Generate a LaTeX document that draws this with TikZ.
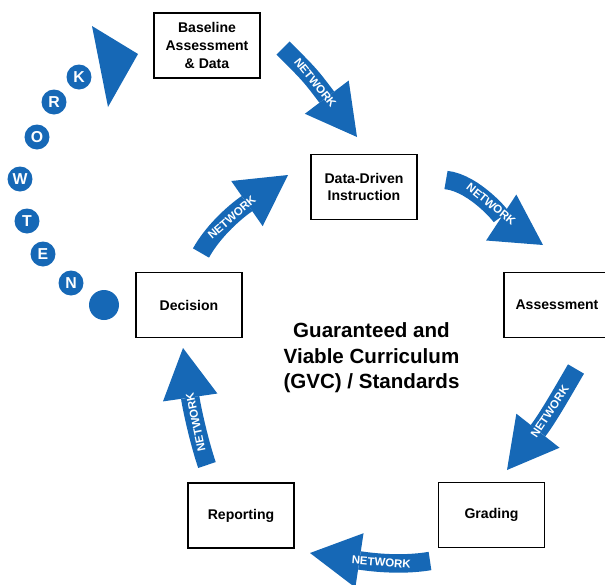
\documentclass[tikz,border=0pt]{standalone}
\usepackage{fontspec}
\setmainfont{Liberation Sans}
\usetikzlibrary{arrows.meta}
\definecolor{netblue}{RGB}{22,104,182}

\begin{document}
\begin{tikzpicture}[x=0.2mm, y=-0.2mm,
		box/.style={draw, line width=1pt, minimum width=21.2mm, minimum height=13mm, align=center, font=\bfseries\fontsize{8}{10}\selectfont},
		ball/.style={circle, fill=netblue, minimum size=5mm, inner sep=0pt, text=white, font=\bfseries\fontsize{9}{9}\selectfont},
		net/.style={draw=netblue, line width=3.7mm, -{Triangle[width=11mm, length=10mm, line width=0pt]}},
		netlabel/.style={sloped, text=white, inner sep=0pt, font=\bfseries\fontsize{6.5}{6.5}\selectfont}]
		\useasboundingbox (0,0) rectangle (605,585);

		\node[box] (base) at (207,45.5) {Baseline\\Assessment\\\& Data};
		\node[box] (ddi) at (364,187) {Data-Driven\\Instruction};
		\node[box] (asmt) at (557,305) {Assessment};
		\node[box] (grad) at (491.5,515) {Grading};
		\node[box] (rep) at (241,515.5) {Reporting};
		\node[box] (dec) at (189,305) {Decision};

		\node[align=center, font=\bfseries\fontsize{11.7}{14.5}\selectfont] (gvc) at (371.5,358) {Guaranteed and\\Viable Curriculum\\(GVC) / Standards};

		\node[ball, minimum size=6mm] (dot) at (104,305) {};
		\node[ball] (n) at (71,283) {N};
		\node[ball] (e) at (43,254) {E};
		\node[ball] (t) at (27,221) {T};
		\node[ball] (w) at (20,179) {W};
		\node[ball] (o) at (37,137) {O};
		\node[ball] (r) at (54,102) {R};
		\node[ball] (k) at (79,77) {K};
		\fill[netblue] (92,26) -- (138,54) -- (108,107) -- cycle;

		\coordinate (a1) at (283,48);  \coordinate (b1) at (357,137);
		\coordinate (a2) at (446,180); \coordinate (b2) at (543,245);
		\coordinate (a3) at (576,369); \coordinate (b3) at (507,470);
		\coordinate (a4) at (430,561); \coordinate (b4) at (310,553);
		\coordinate (a5) at (207,465); \coordinate (b5) at (183,348);
		\coordinate (a6) at (201,253); \coordinate (b6) at (288,175);

		\draw[net] (a1) .. controls (310,75) .. (b1) node[netlabel, pos=0.55] {NETWORK};
		\draw[net] (a2) .. controls (475,183) and (505,220) .. (b2) node[netlabel, pos=0.5] {NETWORK};
		\draw[net] (a3) .. controls (566,386) and (548,418) .. (b3) node[netlabel, pos=0.55] {NETWORK};
		\draw[net] (a4) .. controls (400,566) and (370,562) .. (b4) node[netlabel, pos=0.5] {NETWORK};
		\draw[net] (a5) .. controls (200,445) and (192,410) .. (b5) node[netlabel, allow upside down, pos=0.5] {NETWORK};
		\draw[net] (a6) .. controls (212,233) and (232,214) .. (b6) node[netlabel, pos=0.55] {NETWORK};
	\end{tikzpicture}
\end{document}
